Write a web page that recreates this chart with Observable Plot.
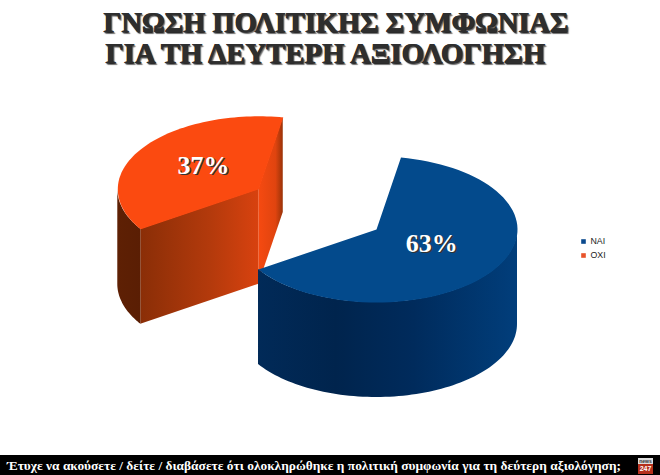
<!DOCTYPE html>
<html>
<head>
<meta charset="utf-8">
<script src="https://cdn.jsdelivr.net/npm/d3@7"></script>
<script src="https://cdn.jsdelivr.net/npm/@observablehq/plot@0.6"></script>
<style>
html,body{margin:0;padding:0;background:#fff;width:660px;height:475px;overflow:hidden}
#title{height:70px;box-sizing:border-box;font:bold 29px/30px "Liberation Serif",serif;color:#2e2e2e;text-shadow:.6px 0 0 #2e2e2e,1px 1px 1px #222,2px 2px 1px #777;white-space:nowrap;position:relative}
#title div{position:absolute}
#chart{height:385px}
#chart svg{display:block}
#caption{position:relative;height:20px;background:#000;color:#fff;font:bold 13.4px/21px "Liberation Serif",serif;padding-left:7px;white-space:nowrap}
#logo{position:absolute;left:638px;top:3px;width:15px;height:16px;font:bold 6px/7px "Liberation Sans",sans-serif;text-align:center}
#logo .a{background:#ddd;color:#333;height:6px;font-size:5px;line-height:6px}
#logo .b{background:#b5301c;color:#fff;height:10px;line-height:10px;font-size:7px}
</style>
</head>
<body>
<div id="title"><div style="left:103px;top:8px;font-size:28.4px">ΓΝΩΣΗ ΠΟΛΙΤΙΚΗΣ ΣΥΜΦΩΝΙΑΣ</div><div style="left:105px;top:38px;font-size:28.8px">ΓΙΑ ΤΗ ΔΕΥΤΕΡΗ ΑΞΙΟΛΟΓΗΣΗ</div></div>
<div id="chart"></div>
<div id="caption">Έτυχε να ακούσετε / δείτε / διαβάσετε ότι ολοκληρώθηκε η πολιτική συμφωνία για τη δεύτερη αξιολόγηση;<div id="logo"><div class="a">news</div><div class="b">247</div></div></div>
<script>
const categories = ["ΝΑΙ", "ΟΧΙ"];
const values = [63, 37];
const labels = ["63%", "37%"];
const topColors = ["#034a8c", "#fb4a10"];
const legendColors = ["#0b4a8e", "#e8532a"];

// Pie geometry (page pixels): ellipse, depth, rotation, explosion
const cx = 376, cy = 229, rx = 141, ry = 73, depth = 95, startDeg = 10;
const explode = [0, 1];
const rad = Math.PI / 180;

const arcs = d3.pie().sort(null).startAngle(startDeg * rad).endAngle((startDeg + 360) * rad)(values);
const slices = arcs.map((a, i) => {
  const mid = (a.startAngle + a.endAngle) / 2;
  const ox = cx + explode[i] * rx * Math.sin(mid);
  const oy = cy - explode[i] * ry * Math.cos(mid);
  const at = t => ({x: ox + rx * Math.sin(t), y: oy - ry * Math.cos(t)});
  const sweep = (from, to) => d3.range(0, 81).map(k => at(from + (to - from) * k / 80));
  return {a, mid, ox, oy, at, sweep, apex: {x: ox, y: oy}};
});
const withDepth = pts => pts.map(p => ({x: p.x, y1: p.y, y2: p.y + depth}));

const gradient = (id, stops) => `<linearGradient id="${id}" x1="0" x2="1" y1="0" y2="0">` +
  stops.map(([o, c]) => `<stop offset="${o}" stop-color="${c}"/>`).join("") + `</linearGradient>`;
const defsMark = () => {
  const g = document.createElementNS("http://www.w3.org/2000/svg", "defs");
  g.innerHTML =
    gradient("blueWall", [[0, "#012a58"], [0.3, "#00244d"], [0.6, "#002b5c"], [1, "#013e7b"]]) +
    gradient("orangeFront", [[0, "#8a2e07"], [0.6, "#b43a0c"], [1, "#d8420f"]]) +
    gradient("orangeOuter", [[0, "#5e2004"], [1, "#5a1e04"]]) +
    gradient("orangeRay", [[0, "#f64a11"], [0.7, "#e0440f"], [1, "#9a3308"]]);
  return g;
};

const [blue, orange] = slices;
// orange: outer wall visible from the leftmost point to the front tip; ray walls
const orangeRight = orange.at(orange.a.endAngle);
const orangeLeft = orange.at(orange.a.startAngle);
const orangeOuter = orange.sweep(orange.a.startAngle, 270 * rad);
const orangeFront = [orangeLeft, orange.apex];
const orangeRay = [orange.apex, orangeRight];
const blueOuter = blue.sweep(90 * rad, blue.a.endAngle);
const face = s => [s.apex, ...s.sweep(s.a.startAngle, s.a.endAngle), s.apex];

const labelPoints = slices.map((s, i) => ({
  x: s.ox + 0.47 * rx * Math.sin(s.mid),
  y: s.oy - 0.47 * ry * Math.cos(s.mid) - 5,
  text: labels[i]
}));
const legend = categories.map((c, i) => ({c, i, color: legendColors[i]}));
const labelFont = {fontFamily: "Liberation Serif", fontWeight: "bold", fontSize: 26, text: "text", x: "x", y: "y"};

const plot = Plot.plot({
  width: 660, height: 385,
  marginTop: 0, marginRight: 0, marginBottom: 0, marginLeft: 0,
  x: {domain: [0, 660], range: [0, 660], axis: null},
  y: {domain: [70, 455], range: [0, 385], axis: null},
  style: {background: "#fff"},
  marks: [
    defsMark,
    Plot.areaY(withDepth(orangeRay), {x: "x", y1: "y1", y2: "y2", fill: "url(#orangeRay)"}),
    Plot.areaY(withDepth(orangeFront), {x: "x", y1: "y1", y2: "y2", fill: "url(#orangeFront)"}),
    Plot.areaY(withDepth(orangeOuter), {x: "x", y1: "y1", y2: "y2", fill: "url(#orangeOuter)"}),
    Plot.line(face(orange), {x: "x", y: "y", fill: topColors[1], stroke: "none"}),
    Plot.areaY(withDepth(blueOuter), {x: "x", y1: "y1", y2: "y2", fill: "url(#blueWall)"}),
    Plot.line(face(blue), {x: "x", y: "y", fill: topColors[0], stroke: "none"}),
    Plot.text(labelPoints, {...labelFont, dx: 1.5, dy: 1.5, fill: "#333"}),
    Plot.text(labelPoints, {...labelFont, fill: "#fff"}),
    Plot.dot(legend, {x: () => 583, y: d => 241 + d.i * 14, symbol: "square", r: 2.6, fill: "color", stroke: "none"}),
    Plot.text(legend, {x: () => 590, y: d => 241 + d.i * 14, text: "c", textAnchor: "start", fontFamily: "Liberation Sans", fontSize: 8.8, fill: "#222"})
  ]
});
document.getElementById("chart").append(plot);
</script>
</body>
</html>
